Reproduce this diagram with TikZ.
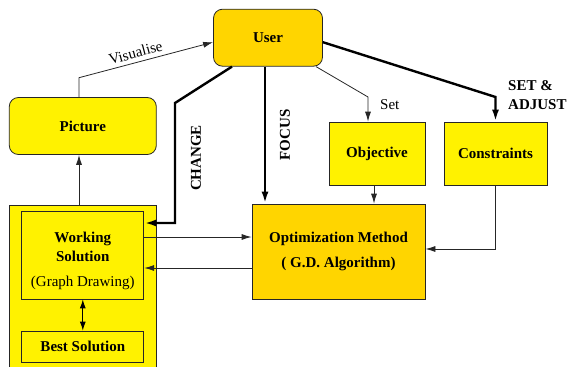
\documentclass[tikz,border=0pt]{standalone}
\usepackage{fontspec}
\setmainfont{Liberation Serif}
\usetikzlibrary{arrows.meta,positioning}
\definecolor{gold}{RGB}{255,213,0}
\tikzset{
  box/.style={draw=black!85,line width=0.8pt,fill=yellow,inner sep=0pt,align=center,
    font=\fontsize{15}{19}\selectfont\bfseries},
  rbox/.style={box,rounded corners=9pt},
  lbl/.style={inner sep=0pt,font=\fontsize{15}{19}\selectfont},
  link/.style={-{Latex[length=10pt,width=6pt]},line width=0.8pt,draw=black!85},
  boldlink/.style={-{Latex[length=12pt,width=7pt]},line width=2.4pt}
}
\begin{document}
\begin{tikzpicture}[x=1pt,y=-1pt]
  \useasboundingbox (0,0) rectangle (568,367);
  % boxes
  \node[rbox,fill=gold,minimum width=109pt,minimum height=57pt] (user) at (268,37.7) {User};
  \node[rbox,minimum width=147pt,minimum height=57pt] (picture) at (82.8,126) {Picture};
  \node[box,minimum width=147pt,minimum height=175pt,anchor=north] (panel) at (82.8,204.5) {};
  \node[box,minimum width=122pt,minimum height=88pt] (working) at (82.8,255) {};
  \node[box,draw=none,fill=none] (workingtxt) at (82.8,261)
    {Working\\Solution\\[6pt]{\mdseries (Graph Drawing)}};
  \node[box,minimum width=122pt,minimum height=31pt] (best) at (82.8,346.5) {Best Solution};
  \node[box,minimum width=96pt,minimum height=63pt] (objective) at (377,153.5) {Objective};
  \node[box,minimum width=103pt,minimum height=63pt] (constraints) at (495.5,153.5) {Constraints};
  \node[box,fill=gold,minimum width=173pt,minimum height=95pt] (optim) at (338.5,251.5)
    {Optimization Method\\[6pt]( G.D. Algorithm)};
  % bends
  \coordinate (visbend) at (79,77.7);
  \coordinate (changebend) at (175,103);
  \coordinate (setbend) at (368,97);
  \coordinate (adjbend) at (495.5,97);
  % labels
  \node[lbl,font=\fontsize{15}{19}\selectfont\bfseries,rotate=90] (changelbl) at (196,158) {CHANGE};
  \node[lbl,font=\fontsize{15}{19}\selectfont\bfseries,rotate=90] (focuslbl) at (285,135) {FOCUS};
  \node[lbl,anchor=west] (setlbl) at (380,105) {Set};
  \node[lbl,font=\fontsize{15}{19}\selectfont\bfseries,align=left,anchor=west] (adjlbl) at (508,95.5) {SET \&\\ADJUST};
  % connectors
  \draw[link] ([xshift=-3.8pt]panel.north) -- ([xshift=-3.8pt]picture.south);
  \draw[link] ([xshift=-3.8pt]picture.north) -- (visbend)
    -- node[lbl,sloped,above=4pt,pos=0.44] (vislbl) {Visualise} ([yshift=-4.5pt]user.west);
  \draw[{Latex[length=9pt,width=6pt]}-{Latex[length=9pt,width=6pt]},line width=0.9pt] (working) -- (best);
  \draw[boldlink] ([xshift=-36pt]user.south) -- (changebend) |- ([yshift=32pt]working.east);
  \draw[boldlink] ([xshift=-3pt]user.south) -- ([xshift=-3pt]user.south |- optim.north);
  \draw[link] ([xshift=48pt]user.south) -- (setbend) -- (setbend |- objective.north);
  \draw[boldlink] ([yshift=-4.5pt]user.east) -- (adjbend) -- (constraints.north);
  \draw[link] ([xshift=-3pt]objective.south) -- ([xshift=-3pt]objective.south |- optim.north);
  \draw[link] (constraints.south) |- ([yshift=2.5pt]optim.east);
  \draw[link] ([yshift=18pt]working.east) -- ([yshift=18pt]working.east -| optim.west);
  \draw[link] ([yshift=-13pt]working.east -| optim.west) -- ([yshift=-13pt]working.east);
\end{tikzpicture}
\end{document}
